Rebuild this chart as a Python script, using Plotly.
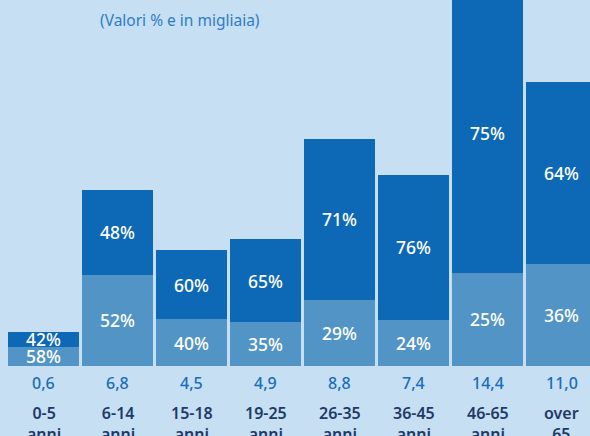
import plotly.graph_objects as go

categories = ["0-5<br>anni", "6-14<br>anni", "15-18<br>anni", "19-25<br>anni",
              "26-35<br>anni", "36-45<br>anni", "46-65<br>anni", "over<br>65"]
totals = [0.6, 6.8, 4.5, 4.9, 8.8, 7.4, 14.4, 11.0]          # migliaia
pct_top = [42, 48, 60, 65, 71, 76, 75, 64]                    # dark segment %
pct_bottom = [58, 52, 40, 35, 29, 24, 25, 36]                 # light segment %
subtitle = "(Valori % e in migliaia)"

# style
BG = "#C6DFF3"
DARK = "#0D68B5"
LIGHT = "#5294C5"
VALUE_COL = "#1A6DB8"
CAT_COL = "#1F3A66"
FONT = "Noto Sans, sans-serif"
MIN_VISIBLE = 1.3  # smallest drawn bar so labels fit

drawn = [max(t, MIN_VISIBLE) for t in totals]
idx = list(range(len(categories)))
h_bottom = [d * p / 100 for d, p in zip(drawn, pct_bottom)]
h_top = [d * p / 100 for d, p in zip(drawn, pct_top)]

fig = go.Figure()
fig.add_bar(x=idx, y=h_bottom, marker=dict(color=LIGHT, line=dict(width=0)),
            width=0.96, text=[f"{p}%" for p in pct_bottom],
            textposition="inside", insidetextanchor="middle", textangle=0,
            textfont=dict(color="white", size=17.5, family=FONT, weight=500),
            hoverinfo="skip")
fig.add_bar(x=idx, y=h_top, marker=dict(color=DARK, line=dict(width=0)),
            width=0.96, text=[f"{p}%" for p in pct_top],
            textposition="inside", insidetextanchor="middle", textangle=0,
            textfont=dict(color="white", size=17.5, family=FONT, weight=500),
            hoverinfo="skip")

annotations = []
for i, (c, t) in enumerate(zip(categories, totals)):
    annotations.append(dict(x=i, y=0, xref="x", yref="y", yanchor="middle",
                            yshift=-17, showarrow=False,
                            text=f"{t:.1f}".replace(".", ","),
                            font=dict(color=VALUE_COL, size=16, family=FONT,
                                      weight=500)))
    annotations.append(dict(x=i, y=0, xref="x", yref="y", yanchor="top",
                            yshift=-34, showarrow=False, text=c,
                            font=dict(color=CAT_COL, size=16, family=FONT,
                                      weight=600)))
annotations.append(dict(x=98 / 590, y=1, xref="paper", yref="paper",
                        xanchor="left", yanchor="middle", yshift=-20,
                        showarrow=False, text=subtitle,
                        font=dict(color="#2F7DC4", size=15.5, family=FONT)))

fig.update_layout(
    width=590, height=436, barmode="stack", showlegend=False,
    margin=dict(l=0, r=0, t=0, b=70, pad=0),
    paper_bgcolor=BG, plot_bgcolor=BG,
    xaxis=dict(range=[-0.588, 7.385], visible=False, fixedrange=True),
    yaxis=dict(range=[0, 14.16], visible=False, fixedrange=True),
    uniformtext=dict(minsize=17.5, mode="show"),
    annotations=annotations,
)
fig.write_html("out.html", config={"displayModeBar": False},
               post_script="document.body.style.margin='0';"
                           "document.body.style.overflow='hidden';")
